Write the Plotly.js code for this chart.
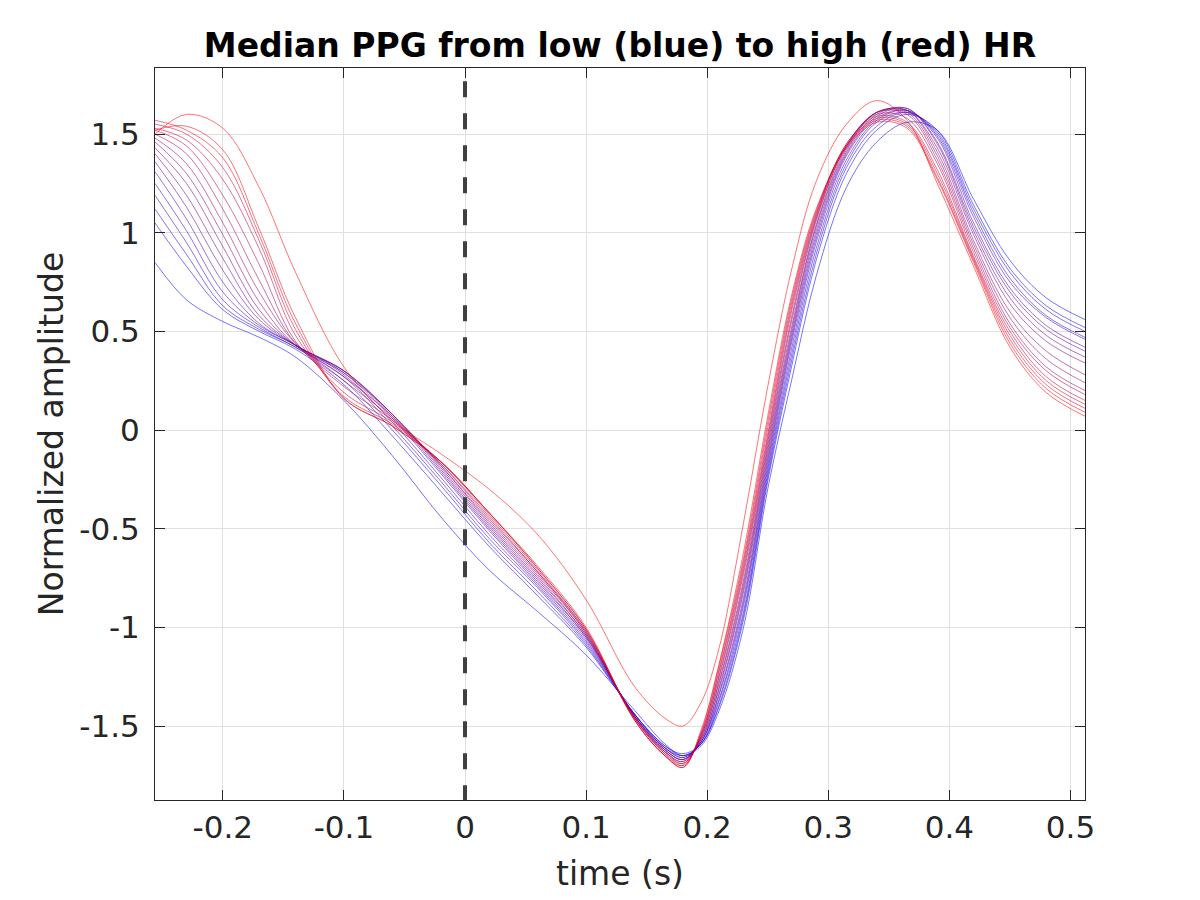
<!DOCTYPE html>
<html>
<head>
<meta charset="utf-8">
<script src="https://cdn.plot.ly/plotly-3.0.1.min.js"></script>
<style>
  html, body { margin:0; padding:0; background:#fff; }
  #chart { width:1200px; height:900px; }
</style>
</head>
<body>
<div id="chart"></div>
<script>
// temps (s), commun a toutes les courbes
const t = [-0.256, -0.23, -0.2, -0.17, -0.14, -0.1, -0.06, -0.02, 0.02, 0.06, 0.1, 0.14, 0.165, 0.18, 0.195,
           0.21, 0.23, 0.25, 0.27, 0.29, 0.315, 0.34, 0.365, 0.39, 0.42, 0.45, 0.48, 0.512];

// PPG median, du HR le plus bas (bleu) au plus haut (rouge)
const ppg01 = [0.85, 0.66, 0.55, 0.47, 0.37, 0.15, -0.13, -0.44, -0.71, -0.92, -1.14, -1.42, -1.59, -1.65, -1.60,
               -1.42, -1.00, -0.30, 0.26, 0.78, 1.23, 1.46, 1.56, 1.52, 1.17, 0.86, 0.67, 0.56];
const ppg02 = [1.05, 0.83, 0.61, 0.50, 0.41, 0.23, -0.03, -0.31, -0.59, -0.84, -1.10, -1.44, -1.60, -1.64, -1.59,
               -1.40, -0.96, -0.26, 0.33, 0.86, 1.30, 1.52, 1.60, 1.52, 1.14, 0.82, 0.63, 0.52];
const ppg03 = [1.12, 0.89, 0.63, 0.51, 0.42, 0.25, 0.00, -0.28, -0.57, -0.82, -1.09, -1.44, -1.60, -1.65, -1.59,
               -1.39, -0.94, -0.24, 0.36, 0.89, 1.33, 1.54, 1.61, 1.51, 1.12, 0.80, 0.61, 0.50];
const ppg04 = [1.19, 0.95, 0.66, 0.52, 0.42, 0.27, 0.02, -0.26, -0.55, -0.80, -1.08, -1.44, -1.61, -1.65, -1.59,
               -1.37, -0.92, -0.22, 0.39, 0.92, 1.35, 1.56, 1.61, 1.50, 1.10, 0.77, 0.58, 0.47];
const ppg05 = [1.25, 1.01, 0.70, 0.53, 0.43, 0.28, 0.04, -0.24, -0.53, -0.79, -1.07, -1.44, -1.61, -1.66, -1.58,
               -1.36, -0.89, -0.20, 0.42, 0.95, 1.37, 1.57, 1.62, 1.49, 1.08, 0.75, 0.57, 0.46];
const ppg06 = [1.31, 1.07, 0.75, 0.54, 0.43, 0.29, 0.06, -0.22, -0.51, -0.78, -1.06, -1.45, -1.61, -1.66, -1.58,
               -1.34, -0.87, -0.18, 0.45, 0.97, 1.39, 1.58, 1.62, 1.48, 1.05, 0.72, 0.53, 0.42];
const ppg07 = [1.36, 1.13, 0.81, 0.56, 0.43, 0.30, 0.07, -0.21, -0.50, -0.77, -1.05, -1.45, -1.62, -1.67, -1.58,
               -1.33, -0.85, -0.16, 0.47, 0.99, 1.40, 1.59, 1.63, 1.46, 1.03, 0.70, 0.51, 0.40];
const ppg08 = [1.40, 1.19, 0.87, 0.58, 0.43, 0.30, 0.08, -0.20, -0.49, -0.76, -1.05, -1.45, -1.62, -1.67, -1.57,
               -1.31, -0.82, -0.14, 0.49, 1.01, 1.41, 1.60, 1.63, 1.45, 1.01, 0.67, 0.48, 0.37];
const ppg09 = [1.43, 1.25, 0.93, 0.61, 0.43, 0.30, 0.08, -0.19, -0.48, -0.75, -1.04, -1.45, -1.62, -1.67, -1.57,
               -1.30, -0.80, -0.12, 0.51, 1.03, 1.42, 1.61, 1.62, 1.43, 0.99, 0.64, 0.45, 0.34];
const ppg10 = [1.46, 1.30, 0.99, 0.65, 0.43, 0.29, 0.08, -0.18, -0.47, -0.74, -1.04, -1.45, -1.63, -1.68, -1.56,
               -1.28, -0.78, -0.10, 0.53, 1.04, 1.43, 1.61, 1.62, 1.41, 0.96, 0.60, 0.40, 0.28];
const ppg11 = [1.48, 1.35, 1.05, 0.70, 0.44, 0.27, 0.07, -0.18, -0.46, -0.73, -1.03, -1.46, -1.63, -1.68, -1.56,
               -1.27, -0.76, -0.08, 0.56, 1.06, 1.44, 1.61, 1.61, 1.39, 0.94, 0.57, 0.36, 0.24];
const ppg12 = [1.50, 1.40, 1.12, 0.76, 0.44, 0.25, 0.06, -0.17, -0.45, -0.72, -1.03, -1.46, -1.63, -1.69, -1.55,
               -1.25, -0.73, -0.06, 0.58, 1.07, 1.44, 1.61, 1.60, 1.37, 0.92, 0.54, 0.32, 0.20];
const ppg13 = [1.52, 1.44, 1.19, 0.84, 0.45, 0.22, 0.05, -0.17, -0.44, -0.72, -1.02, -1.46, -1.64, -1.69, -1.55,
               -1.24, -0.71, -0.04, 0.61, 1.08, 1.45, 1.60, 1.58, 1.35, 0.90, 0.52, 0.30, 0.18];
const ppg14 = [1.53, 1.47, 1.27, 0.92, 0.48, 0.19, 0.04, -0.16, -0.43, -0.71, -1.02, -1.46, -1.64, -1.70, -1.54,
               -1.22, -0.69, -0.02, 0.63, 1.09, 1.45, 1.59, 1.56, 1.32, 0.88, 0.50, 0.27, 0.15];
const ppg15 = [1.55, 1.50, 1.33, 0.96, 0.51, 0.17, 0.03, -0.16, -0.42, -0.70, -1.01, -1.47, -1.65, -1.70, -1.54,
               -1.21, -0.67, 0.01, 0.65, 1.10, 1.44, 1.58, 1.55, 1.30, 0.87, 0.48, 0.25, 0.13];
const ppg16 = [1.57, 1.52, 1.38, 0.99, 0.54, 0.16, 0.02, -0.16, -0.42, -0.70, -1.01, -1.47, -1.65, -1.71, -1.53,
               -1.19, -0.65, 0.04, 0.67, 1.11, 1.44, 1.57, 1.54, 1.28, 0.86, 0.46, 0.23, 0.11];
const ppg17 = [1.52, 1.54, 1.42, 1.02, 0.57, 0.16, 0.02, -0.16, -0.42, -0.69, -1.00, -1.47, -1.65, -1.71, -1.52,
               -1.18, -0.62, 0.07, 0.69, 1.12, 1.43, 1.56, 1.53, 1.27, 0.85, 0.44, 0.21, 0.09];
const ppg18 = [1.50, 1.60, 1.53, 1.23, 0.80, 0.32, 0.05, -0.12, -0.30, -0.53, -0.86, -1.30, -1.46, -1.50, -1.38,
               -1.10, -0.47, 0.22, 0.82, 1.26, 1.55, 1.67, 1.57, 1.25, 0.83, 0.42, 0.19, 0.07];

const curves = [ppg01, ppg02, ppg03, ppg04, ppg05, ppg06, ppg07, ppg08, ppg09,
                ppg10, ppg11, ppg12, ppg13, ppg14, ppg15, ppg16, ppg17, ppg18];

// graduations
const xTickVals = [-0.2, -0.1, 0, 0.1, 0.2, 0.3, 0.4, 0.5];
const xTickText = ['-0.2', '-0.1', '0', '0.1', '0.2', '0.3', '0.4', '0.5'];
const yTickVals = [-1.5, -1, -0.5, 0, 0.5, 1, 1.5];
const yTickText = ['-1.5', '-1', '-0.5', '0', '0.5', '1', '1.5'];

(function(){
  const n = curves.length;
  // couleur du bleu vers le rouge
  const traces = curves.map((y, i) => {
    const s = i / (n - 1);
    const col = `rgb(${Math.round(255 * s)},0,${Math.round(255 * (1 - s))})`;
    return {
      x: t, y: y, mode: 'lines', hoverinfo: 'skip', showlegend: false,
      line: {color: col, width: 0.55, shape: 'spline', smoothing: 1}
    };
  });

  const axisBase = {
    ticks: 'inside', ticklen: 10, tickwidth: 1, tickcolor: '#262626',
    showline: true, linecolor: '#262626', linewidth: 1, mirror: 'ticks',
    showgrid: true, gridcolor: '#e0e0e0', gridwidth: 1, zeroline: false,
    tickfont: {size: 31, color: '#262626'}
  };

  const layout = {
    width: 1200, height: 900,
    margin: {l: 155, r: 115, t: 68, b: 100},
    paper_bgcolor: '#fff', plot_bgcolor: '#fff',
    font: {family: 'DejaVu Sans', color: '#262626'},
    title: {
      text: 'Median PPG from low (blue) to high (red) HR',
      font: {size: 33, color: '#000', weight: 'bold'},
      xref: 'paper', x: 0.5, xanchor: 'center',
      yref: 'container', y: 0.95, yanchor: 'middle'
    },
    xaxis: Object.assign({}, axisBase, {
      range: [-0.256, 0.512], tickvals: xTickVals, ticktext: xTickText,
      title: {text: 'time (s)', font: {size: 33, color: '#262626'}, standoff: 17}
    }),
    yaxis: Object.assign({}, axisBase, {
      range: [-1.875, 1.835], tickvals: yTickVals, ticktext: yTickText,
      ticklabelstandoff: 8,
      title: {text: 'Normalized amplitude', font: {size: 33, color: '#262626'}, standoff: 5}
    }),
    // ligne verticale pointillee a t = 0
    shapes: [{
      type: 'line', xref: 'x', yref: 'paper', x0: 0, x1: 0, y0: 0.982, y1: 0,
      line: {color: '#404040', width: 4, dash: '16px,16px'}
    }]
  };

  Plotly.newPlot('chart', traces, layout, {displayModeBar: false, staticPlot: true});
})();
</script>
</body>
</html>
